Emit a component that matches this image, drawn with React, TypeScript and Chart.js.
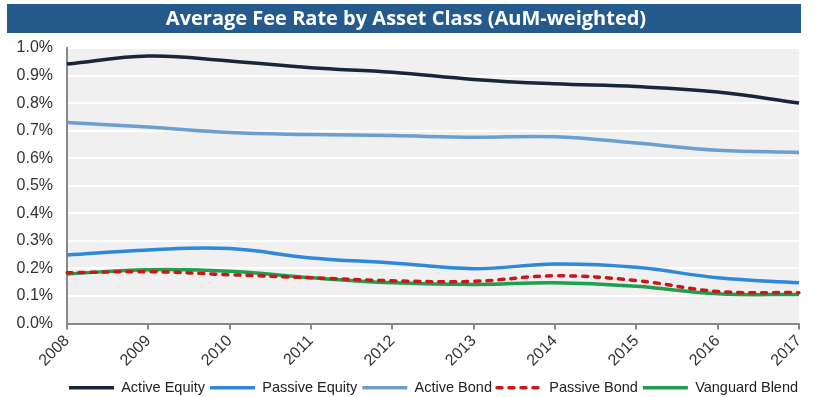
import React, { useEffect, useRef } from "react";
import { Chart, registerables } from "chart.js";

Chart.register(...registerables);

const TITLE = "Average Fee Rate by Asset Class (AuM-weighted)";
const years = ["2008", "2009", "2010", "2011", "2012", "2013", "2014", "2015", "2016", "2017"];
const activeEquity = [0.942, 0.971, 0.953, 0.928, 0.912, 0.886, 0.870, 0.860, 0.840, 0.800];
const passiveEquity = [0.249, 0.267, 0.272, 0.238, 0.220, 0.199, 0.216, 0.204, 0.166, 0.148];
const activeBond = [0.730, 0.713, 0.693, 0.686, 0.682, 0.676, 0.678, 0.655, 0.629, 0.621];
const passiveBond = [0.184, 0.188, 0.177, 0.166, 0.155, 0.153, 0.173, 0.156, 0.116, 0.112];
const vanguardBlend = [0.180, 0.195, 0.190, 0.166, 0.148, 0.142, 0.148, 0.135, 0.108, 0.105];

const FONT = "'Liberation Sans', Arial, sans-serif";

const bgPlugin = {
  id: "bgPlugin",
  afterLayout(chart: any) {
    const lg = chart.legend;
    if (lg) {
      lg.left += 34;
      lg.right += 34;
      lg.top += 8;
      lg.bottom += 8;
    }
  },
  beforeDraw(chart: any) {
    const { ctx, chartArea } = chart;
    ctx.save();
    ctx.fillStyle = "#ffffff";
    ctx.fillRect(0, 0, chart.width, chart.height);
    // title bar
    ctx.fillStyle = "#245B8C";
    ctx.fillRect(7, 4, 794, 29);
    ctx.fillStyle = "#ffffff";
    ctx.font = "bold 20px 'Open Sans', sans-serif";
    ctx.textAlign = "center";
    ctx.textBaseline = "middle";
    ctx.fillText(TITLE, 406, 19);
    // plot background
    ctx.fillStyle = "#F0F0F0";
    ctx.fillRect(chartArea.left, chartArea.top, chartArea.right - chartArea.left, chartArea.bottom - chartArea.top);
    ctx.restore();
  },
};

export default function App() {
  const ref = useRef<HTMLCanvasElement>(null);
  useEffect(() => {
    document.body.style.margin = "0";
    const mk = (label: string, data: number[], color: string, dash?: number[]) => ({
      label,
      data,
      borderColor: color,
      backgroundColor: color,
      borderWidth: 3.5,
      borderDash: dash || [],
      borderCapStyle: dash ? "round" : "butt",
      pointRadius: 0,
      tension: 0.4,
      fill: false,
    });
    const chart = new Chart(ref.current!, {
      type: "line",
      data: {
        labels: years,
        datasets: [
          mk("Active Equity", activeEquity, "#17263A"),
          mk("Passive Equity", passiveEquity, "#2F88DD"),
          mk("Active Bond", activeBond, "#6A9FD0"),
          mk("Passive Bond", passiveBond, "#C81818", [5, 7]),
          mk("Vanguard Blend", vanguardBlend, "#1E9E4E"),
        ],
      },
      options: {
        animation: false,
        responsive: false,
        devicePixelRatio: 1,
        layout: { padding: { top: 48, right: 21, left: 0, bottom: 0 } },
        plugins: {
          title: { display: false },
          tooltip: { enabled: false },
          legend: {
            position: "bottom",
            labels: {
              usePointStyle: true,
              pointStyle: "line",
              pointStyleWidth: 45,
              boxHeight: 14,
              padding: 5,
              color: "#222",
              font: { family: FONT, size: 14.5 },
              generateLabels: (c: any) => {
                const items = Chart.defaults.plugins.legend.labels.generateLabels(c);
                return items.map((it: any) => {
                  const ds: any = c.data.datasets[it.datasetIndex];
                  return {
                    ...it,
                    pointStyle: "line",
                    strokeStyle: ds.borderColor,
                    fillStyle: ds.borderColor,
                    lineWidth: 3.5,
                    lineDash: ds.borderDash,
                    lineCap: ds.borderCapStyle,
                  };
                });
              },
            },
          },
        },
        scales: {
          x: {
            offset: false,
            grid: {
              display: true,
              drawOnChartArea: false,
              drawTicks: true,
              tickLength: 6,
              color: "#888",
              lineWidth: 2,
            },
            border: { display: true, color: "#888", width: 2 },
            ticks: {
              minRotation: 45,
              maxRotation: 45,
              color: "#333",
              font: { family: FONT, size: 16 },
              padding: 2,
            },
            afterFit: (s: any) => {
              s.height = 44;
            },
          },
          y: {
            min: 0,
            max: 1.0,
            ticks: {
              stepSize: 0.1,
              color: "#333",
              font: { family: FONT, size: 16 },
              padding: 14,
              callback: (v: any) => Number(v).toFixed(1) + "%",
            },
            grid: { color: "#ffffff", lineWidth: 2, drawTicks: false },
            border: { display: true, color: "#888", width: 2 },
            afterFit: (s: any) => {
              s.width = 67;
            },
          },
        },
      },
      plugins: [bgPlugin],
    });
    return () => chart.destroy();
  }, []);
  return (
    <div style={{ width: 820, height: 397 }}>
      <canvas ref={ref} width={820} height={397} />
    </div>
  );
}
